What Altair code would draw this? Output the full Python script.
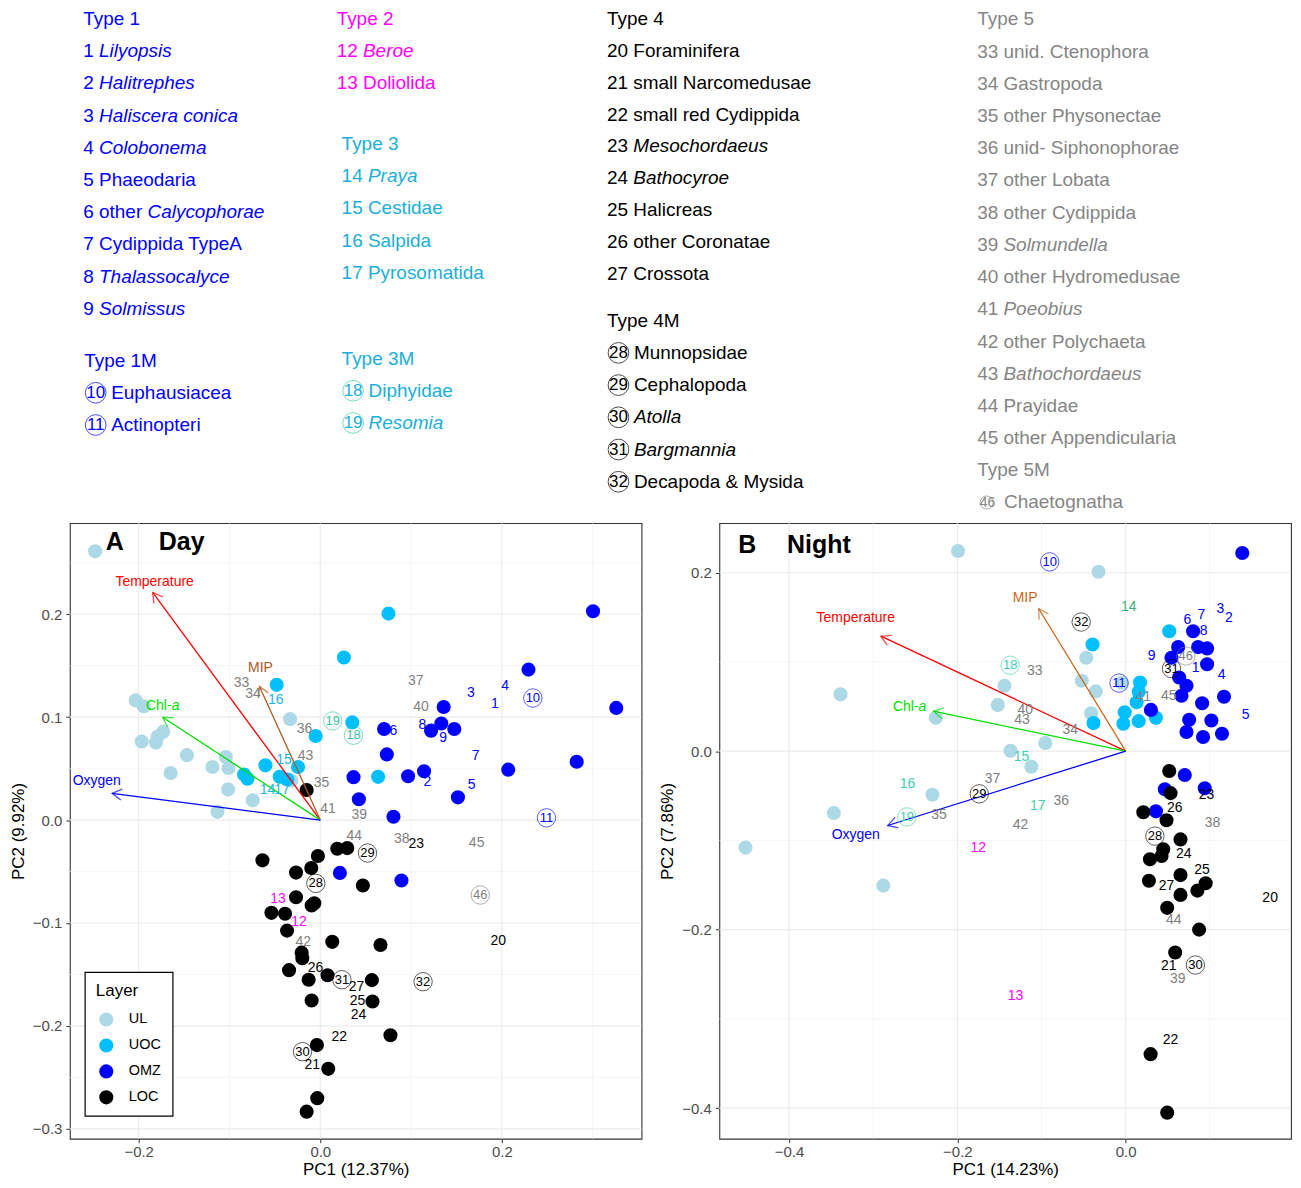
import math
import altair as alt
import pandas as pd

FONT = "Liberation Sans"

# ---------------- top legend (taxa by type) ----------------
type1_ids = [1, 2, 3, 4, 5, 6, 7, 8, 9]
type1_names = ["*Lilyopsis*", "*Halitrephes*", "*Haliscera conica*", "*Colobonema*", "Phaeodaria",
               "other *Calycophorae*", "Cydippida TypeA", "*Thalassocalyce*", "*Solmissus*"]
type1m_ids = [10, 11]
type1m_names = ["Euphausiacea", "Actinopteri"]
type2_ids = [12, 13]
type2_names = ["*Beroe*", "Doliolida"]
type3_ids = [14, 15, 16, 17]
type3_names = ["*Praya*", "Cestidae", "Salpida", "Pyrosomatida"]
type3m_ids = [18, 19]
type3m_names = ["Diphyidae", "*Resomia*"]
type4_ids = [20, 21, 22, 23, 24, 25, 26, 27]
type4_names = ["Foraminifera", "small Narcomedusae", "small red Cydippida", "*Mesochordaeus*",
               "*Bathocyroe*", "Halicreas", "other Coronatae", "Crossota"]
type4m_ids = [28, 29, 30, 31, 32]
type4m_names = ["Munnopsidae", "Cephalopoda", "*Atolla*", "*Bargmannia*", "Decapoda & Mysida"]
type5_ids = [33, 34, 35, 36, 37, 38, 39, 40, 41, 42, 43, 44, 45]
type5_names = ["unid. Ctenophora", "Gastropoda", "other Physonectae", "unid- Siphonophorae",
               "other Lobata", "other Cydippida", "*Solmundella*", "other Hydromedusae",
               "*Poeobius*", "other Polychaeta", "*Bathochordaeus*", "Prayidae", "other Appendicularia"]
type5m_ids = [46]
type5m_names = ["Chaetognatha"]

C_T1, C_T2, C_T3, C_T3C, C_T4, C_T5 = "#0000FF", "#FF00FF", "#19AFD9", "#3DCCA8", "#000000", "#858585"

# header, ids, names, circled, text colour, circle colour
groups = [
    ("Type 1", type1_ids, type1_names, False, C_T1, C_T1),
    ("Type 1M", type1m_ids, type1m_names, True, C_T1, C_T1),
    ("Type 2", type2_ids, type2_names, False, C_T2, C_T2),
    ("Type 3", type3_ids, type3_names, False, C_T3, C_T3),
    ("Type 3M", type3m_ids, type3m_names, True, C_T3, C_T3C),
    ("Type 4", type4_ids, type4_names, False, C_T4, C_T4),
    ("Type 4M", type4m_ids, type4m_names, True, C_T4, C_T4),
    ("Type 5", type5_ids, type5_names, False, C_T5, C_T5),
    ("Type 5M", type5m_ids, type5m_names, True, C_T5, C_T5),
]

# layout of the legend block (pixels inside the block; origin aligned with panel A's plot area)
TOP_W, TOP_H = 1215, 505
ROW = 32.3
FS_LEG = 19
anchors = {"Type 1": (13.4, 9.5), "Type 1M": (14.4, 352), "Type 2": (267.4, 9.5), "Type 3": (272.4, 135),
           "Type 3M": (272.4, 350), "Type 4": (538.4, 9.4), "Type 4M": (538.4, 312), "Type 5": (909.4, 10),
           "Type 5M": (909.4, 462)}

# Arial / Liberation Sans advance widths (1/1000 em)
AW = dict(zip("abcdefghijklmnopqrstuvwxyz",
              [556, 556, 500, 556, 556, 278, 556, 556, 222, 222, 500, 222, 833, 556, 556, 556, 556, 333,
               500, 278, 556, 500, 722, 500, 500, 500]))
AW.update(dict(zip("ABCDEFGHIJKLMNOPQRSTUVWXYZ",
                   [667, 667, 722, 722, 667, 611, 778, 722, 278, 500, 667, 556, 833, 722, 778, 667, 778,
                    722, 667, 611, 722, 667, 944, 667, 667, 611])))
AW.update({" ": 278, "-": 333, ".": 278, "&": 667})
for d in "0123456789":
    AW[d] = 556


def tw(s, fs):
    return sum(AW.get(c, 556) for c in s) * fs / 1000.0


leg_txt, leg_num, leg_circ = [], [], []
for header, ids, names, circled, tcol, ccol in groups:
    ax, ay = anchors[header]
    leg_txt.append(dict(x=ax, y=ay, text=header, color=tcol, it=False, fs=FS_LEG))
    step = ROW if header != "Type 4" else ROW - 0.3
    for k, (i, nm) in enumerate(zip(ids, names), start=1):
        yy = ay + k * step
        if circled:
            small = i == 46
            cx = ax + (9.5 if small else 11.5)
            leg_circ.append(dict(x=cx, y=yy, color=ccol, sz=(170 if small else 430)))
            leg_num.append(dict(x=cx + (1 if small else 0), y=yy, text=str(i), color=tcol,
                                fs=(14 if small else 17)))
            sx, s = ax + 27, nm
        else:
            sx, s = ax, f"{i} {nm}"
        for j, p in enumerate(s.split("*")):
            if p:
                leg_txt.append(dict(x=sx, y=yy, text=p, color=tcol, it=(j % 2 == 1), fs=FS_LEG))
            sx += tw(p, FS_LEG)

tx_scale = alt.Scale(domain=[0, TOP_W], nice=False, zero=False)
ty_scale = alt.Scale(domain=[0, TOP_H], nice=False, zero=False, reverse=True)


def top_enc(ch):
    return ch.encode(x=alt.X("x:Q", scale=tx_scale, axis=None),
                     y=alt.Y("y:Q", scale=ty_scale, axis=None),
                     color=alt.Color("color:N", scale=None))


ltxt = pd.DataFrame(leg_txt)
top_norm = top_enc(alt.Chart(ltxt[~ltxt.it]).mark_text(align="left", baseline="middle", font=FONT)).encode(
    text="text:N", size=alt.Size("fs:Q", scale=None))
top_ital = top_enc(alt.Chart(ltxt[ltxt.it]).mark_text(align="left", baseline="middle", font=FONT,
                                                      fontStyle="italic")).encode(
    text="text:N", size=alt.Size("fs:Q", scale=None))
top_nums = top_enc(alt.Chart(pd.DataFrame(leg_num)).mark_text(align="center", baseline="middle", font=FONT)).encode(
    text="text:N", size=alt.Size("fs:Q", scale=None))
top_circ = top_enc(alt.Chart(pd.DataFrame(leg_circ)).mark_point(shape="circle", filled=False, strokeWidth=1)).encode(
    size=alt.Size("sz:Q", scale=None))
top = alt.layer(top_norm, top_ital, top_circ, top_nums).properties(
    width=TOP_W, height=TOP_H, view=alt.ViewBackground(strokeWidth=0))

# ---------------- Panel A (Day) ----------------
A_UL_x = [-0.2480, -0.2033, -0.1945, -0.1967, -0.1810, -0.1791, -0.1729, -0.1469, -0.1648, -0.1187,
          -0.1040, -0.1011, -0.1015, -0.1132, -0.0744, -0.0333, -0.0319]
A_UL_y = [0.2612, 0.1163, 0.1106, 0.0763, 0.0753, 0.0811, 0.0859, 0.0631, 0.0458, 0.0516,
          0.0612, 0.0506, 0.0298, 0.0080, 0.0192, 0.0981, 0.0385]
A_UOC_x = [0.0751, 0.0260, -0.0480, -0.0051, 0.0352, 0.0637, -0.0604, -0.0839, -0.0802, -0.0447,
           -0.0245, -0.0363]
A_UOC_y = [0.2006, 0.1580, 0.1314, 0.0817, 0.0949, 0.0420, 0.0532, 0.0442, 0.0401, 0.0420,
           0.0516, 0.0394]
A_OMZ_x = [0.3004, 0.2293, 0.3260, 0.1359, 0.0703, 0.1220, 0.1333, 0.1476, 0.0733, 0.0366, 0.0967,
           0.1143, 0.2070, 0.2824, 0.0425, 0.1516, 0.0806, 0.0216, 0.0894]
A_OMZ_y = [0.2029, 0.1462, 0.1090, 0.1099, 0.0885, 0.0869, 0.0939, 0.0885, 0.0638, 0.0417, 0.0426,
           0.0474, 0.0490, 0.0567, 0.0202, 0.0221, 0.0032, -0.0513, -0.0587]
A_LOC_x = [-0.0150, -0.0637, -0.0026, -0.0099, -0.0267, 0.0187, 0.0297, -0.0267, -0.0095, -0.0066,
           -0.0538, -0.0388, -0.0366, 0.0132, -0.0205, -0.0198, -0.0344, -0.0128, 0.0080, -0.0095,
           -0.0037, 0.0088, -0.0033, -0.0150, 0.0469, 0.0663, 0.0568, 0.0575, 0.0773]
A_LOC_y = [0.0292, -0.0391, -0.0349, -0.0465, -0.0510, -0.0279, -0.0272, -0.0750, -0.0830, -0.0808,
           -0.0901, -0.0910, -0.1074, -0.1183, -0.1288, -0.1343, -0.1458, -0.1551, -0.1507, -0.1753,
           -0.2186, -0.2417, -0.2702, -0.2833, -0.0635, -0.1214, -0.1555, -0.1763, -0.2090]

A_lab_id = [33, 34, 16, 36, 19, 18, 15, 43, 35, 14, 17, 41, 6, 37, 40, 3, 4, 1, 10, 8, 9, 7, 2, 5, 11,
            39, 44, 38, 23, 45, 29, 28, 46, 20, 26, 31, 27, 25, 24, 32, 22, 30, 21, 13, 12, 42]
A_lab_x = [-0.0868, -0.0740, -0.0491, -0.0173, 0.0137, 0.0366, -0.0399, -0.0162, 0.0014, -0.0582,
           -0.0421, 0.0085, 0.0805, 0.1052, 0.1110, 0.1659, 0.2036, 0.1923, 0.2341, 0.1124, 0.1352,
           0.1711, 0.1179, 0.1667, 0.2491, 0.0429, 0.0374, 0.0898, 0.1058, 0.1722, 0.0520, -0.0049,
           0.1762, 0.1959, -0.0053, 0.0238, 0.0399, 0.0410, 0.0421, 0.1132, 0.0209, -0.0196, -0.0088,
           -0.0465, -0.0234, -0.0187]
A_lab_y = [0.1334, 0.1228, 0.1163, 0.0885, 0.0963, 0.0824, 0.0587, 0.0618, 0.0356, 0.0291, 0.0291,
           0.0106, 0.0865, 0.1349, 0.1099, 0.1234, 0.1298, 0.1125, 0.1186, 0.0926, 0.0798, 0.0618,
           0.0368, 0.0337, 0.0022, 0.0048, -0.0159, -0.0183, -0.0231, -0.0221, -0.0320, -0.0615,
           -0.0728, -0.1176, -0.1433, -0.1551, -0.1618, -0.1760, -0.1897, -0.1570, -0.2106, -0.2250,
           -0.2378, -0.0769, -0.0990, -0.1183]

A_arrow_names = ["Temperature", "MIP", "Chl-a", "Oxygen"]
A_arrow_x = [-0.1846, -0.0670, -0.1736, -0.2293]
A_arrow_y = [0.2212, 0.1298, 0.1000, 0.0260]
A_arrow_lab_x = [-0.1824, -0.0659, -0.1736, -0.2462]
A_arrow_lab_y = [0.2317, 0.1481, 0.1106, 0.0375]
A_title = ["A", "Day"]
A_title_x = [-0.2264, -0.1527]
A_title_y = [0.2702, 0.2702]

# ---------------- Panel B (Night) ----------------
B_UL_x = [-0.1992, -0.3388, -0.2256, -0.1440, -0.1519, -0.1369, -0.2296, -0.3467, -0.4517, -0.2880,
          -0.0323, -0.0469, -0.0521, -0.0355, -0.0411, -0.0955, -0.1121, -0.0047]
B_UL_y = [0.2244, 0.0637, 0.0374, 0.0733, 0.0519, 0.0004, -0.0489, -0.0693, -0.1081, -0.1507,
          0.2011, 0.1048, 0.0789, 0.0670, 0.0426, 0.0092, -0.0174, 0.0767]
B_UOC_x = [0.0517, -0.0394, -0.0383, 0.0170, 0.0154, 0.0130, -0.0012, -0.0028, 0.0154, 0.0359]
B_UOC_y = [0.1344, 0.1196, 0.0315, 0.0770, 0.0667, 0.0548, 0.0437, 0.0307, 0.0337, 0.0374]
B_OMZ_x = [0.1385, 0.0801, 0.0623, 0.0860, 0.0967, 0.0544, 0.0967, 0.0635, 0.0722, 0.0663, 0.1168,
           0.0908, 0.0300, 0.0754, 0.1018, 0.0722, 0.0919, 0.1144, 0.0702, 0.0465, 0.0939, 0.0359]
B_OMZ_y = [0.2222, 0.1344, 0.1167, 0.1167, 0.1152, 0.1048, 0.0974, 0.0826, 0.0733, 0.0622, 0.0611,
           0.0537, 0.0463, 0.0352, 0.0344, 0.0215, 0.0159, 0.0196, -0.0267, -0.0426, -0.0415, -0.0674]
B_LOC_x = [0.0517, 0.0533, 0.0209, 0.0485, 0.0651, 0.0446, 0.0426, 0.0288, 0.0651, 0.0276, 0.0950,
           0.0852, 0.0651, 0.0493, 0.0872, 0.0588, 0.0296, 0.0493]
B_LOC_y = [-0.0222, -0.0470, -0.0685, -0.0774, -0.0989, -0.1100, -0.1174, -0.1211, -0.1389, -0.1452,
           -0.1481, -0.1563, -0.1611, -0.1756, -0.2000, -0.2256, -0.3396, -0.4052]

B_lab_id = [18, 16, 37, 29, 19, 35, 12, 10, 14, 32, 6, 7, 3, 2, 8, 33, 9, 46, 31, 1, 4, 11, 41, 45, 5,
            40, 43, 34, 15, 17, 36, 42, 23, 26, 38, 28, 24, 25, 27, 44, 20, 21, 30, 39, 13, 22]
B_lab_x = [-0.1373, -0.2592, -0.1582, -0.1740, -0.2600, -0.2217, -0.1751, -0.0903, 0.0036, -0.0529,
           0.0734, 0.0899, 0.1124, 0.1227, 0.0927, -0.1080, 0.0308, 0.0714, 0.0544, 0.0832, 0.1140,
           -0.0079, 0.0209, 0.0512, 0.1424, -0.1192, -0.1231, -0.0659, -0.1239, -0.1045, -0.0766,
           -0.1251, 0.0959, 0.0583, 0.1030, 0.0347, 0.0690, 0.0908, 0.0485, 0.0572, 0.1716, 0.0512,
           0.0828, 0.0619, -0.1310, 0.0533]
B_lab_y = [0.0963, -0.0370, -0.0314, -0.0478, -0.0737, -0.0719, -0.1089, 0.2122, 0.1611, 0.1448,
           0.1467, 0.1522, 0.1597, 0.1492, 0.1344, 0.0900, 0.1067, 0.1067, 0.0926, 0.0937, 0.0856,
           0.0763, 0.0603, 0.0614, 0.0411, 0.0463, 0.0344, 0.0241, -0.0070, -0.0611, -0.0563,
           -0.0822, -0.0489, -0.0637, -0.0803, -0.0952, -0.1156, -0.1333, -0.1508, -0.1897, -0.1648,
           -0.2408, -0.2397, -0.2552, -0.2741, -0.3241]

B_arrow_names = ["Temperature", "MIP", "Chl-a", "Oxygen"]
B_arrow_x = [-0.2908, -0.1033, -0.2284, -0.2828]
B_arrow_y = [0.1289, 0.1597, 0.0448, -0.0833]
B_arrow_lab_x = [-0.3207, -0.1195, -0.2568, -0.3207]
B_arrow_lab_y = [0.1489, 0.1722, 0.0500, -0.0944]
B_title = ["B", "Night"]
B_title_x = [-0.4497, -0.3645]
B_title_y = [0.2311, 0.2311]

LAYER_DOM = ["UL", "UOC", "OMZ", "LOC"]
LAYER_COL = ["#ADD8E6", "#00BFFF", "#0000FF", "#000000"]
CIRCLED = {10, 11, 18, 19, 28, 29, 30, 31, 32, 46}
ARROW_PATH = "M -0.5 0.866 L 0 0 L 0.5 0.866"


def id_color(i, panel):
    if i <= 11:
        return "#0000FF"
    if i <= 13:
        return "#FF00FF"
    if i <= 17:
        if panel == "A":
            return "#1AB4E6"
        return "#36B080" if i == 14 else "#3FCFB0"
    if i <= 19:
        return "#3CC4A4" if panel == "A" else "#3FCFB0"
    if i <= 32:
        return "#000000"
    return "#808080"


def make_panel(tag, pts, lab_id, lab_x, lab_y, a_names, a_x, a_y, al_x, al_y, mip_col,
               t_text, t_x, t_y, xdom, ydom, xmaj, ymaj, xmin, ymin, xtitle, ytitle, W, H, legend):
    xs = alt.Scale(domain=xdom, nice=False, zero=False)
    ys = alt.Scale(domain=ydom, nice=False, zero=False)
    xa = alt.Axis(values=xmaj, format=".1f", title=xtitle, grid=False)
    ya = alt.Axis(values=ymaj, format=".1f", title=ytitle, grid=False)

    def X(f):
        return alt.X(f, scale=xs, axis=xa)

    def Y(f):
        return alt.Y(f, scale=ys, axis=ya)

    def gridx(vals, w, c):
        return alt.Chart(pd.DataFrame({"x": vals})).mark_rule(color=c, strokeWidth=w).encode(x=X("x:Q"))

    def gridy(vals, w, c):
        return alt.Chart(pd.DataFrame({"y": vals})).mark_rule(color=c, strokeWidth=w).encode(y=Y("y:Q"))

    grids = [gridx(xmin, 0.7, "#F2F2F2"), gridy(ymin, 0.7, "#F2F2F2"),
             gridx(xmaj, 1.2, "#EBEBEB"), gridy(ymaj, 1.2, "#EBEBEB")]

    points = alt.Chart(pts).mark_circle(size=200, opacity=1).encode(
        x=X("x:Q"), y=Y("y:Q"),
        color=alt.Color("layer:N", scale=alt.Scale(domain=LAYER_DOM, range=LAYER_COL), legend=legend),
    )

    sx = W / (xdom[1] - xdom[0])
    sy = H / (ydom[1] - ydom[0])
    acols = {"Temperature": "#FF0000", "MIP": mip_col, "Chl-a": "#00E000", "Oxygen": "#0000FF"}
    arr = pd.DataFrame({
        "name": a_names, "x": a_x, "y": a_y, "ox": [0.0] * len(a_x), "oy": [0.0] * len(a_x),
        "lx": al_x, "ly": al_y,
        "col": [acols[n] for n in a_names],
        "ang": [math.degrees(math.atan2(x * sx, y * sy)) % 360 for x, y in zip(a_x, a_y)],
    })
    shafts = alt.Chart(arr).mark_rule(strokeWidth=1.3).encode(
        x=X("ox:Q"), y=Y("oy:Q"), x2="x:Q", y2="y:Q", color=alt.Color("col:N", scale=None))
    heads = alt.Chart(arr).mark_point(shape=ARROW_PATH, filled=False, size=484, strokeWidth=1.3).encode(
        x=X("x:Q"), y=Y("y:Q"), angle=alt.Angle("ang:Q", scale=None), color=alt.Color("col:N", scale=None))
    alabs = alt.Chart(arr[arr.name != "Chl-a"]).mark_text(font=FONT, fontSize=14).encode(
        x=X("lx:Q"), y=Y("ly:Q"), text="name:N", color=alt.Color("col:N", scale=None))
    chl = arr[arr.name == "Chl-a"].assign(t1="Chl-", t2="a")
    chl1 = alt.Chart(chl).mark_text(font=FONT, fontSize=14, align="right", dx=9).encode(
        x=X("lx:Q"), y=Y("ly:Q"), text="t1:N", color=alt.Color("col:N", scale=None))
    chl2 = alt.Chart(chl).mark_text(font=FONT, fontSize=14, align="left", dx=9, fontStyle="italic").encode(
        x=X("lx:Q"), y=Y("ly:Q"), text="t2:N", color=alt.Color("col:N", scale=None))

    labs = pd.DataFrame({"id": lab_id, "x": lab_x, "y": lab_y})
    labs["text"] = labs["id"].astype(str)
    labs["col"] = [id_color(i, tag) for i in labs["id"]]
    labs["circ"] = labs["id"].isin(CIRCLED)
    plain = alt.Chart(labs[~labs.circ]).mark_text(font=FONT, fontSize=14).encode(
        x=X("x:Q"), y=Y("y:Q"), text="text:N", color=alt.Color("col:N", scale=None))
    cnum = alt.Chart(labs[labs.circ]).mark_text(font=FONT, fontSize=13).encode(
        x=X("x:Q"), y=Y("y:Q"), text="text:N", color=alt.Color("col:N", scale=None))
    ccirc = alt.Chart(labs[labs.circ]).mark_point(shape="circle", filled=False, size=340, strokeWidth=0.9).encode(
        x=X("x:Q"), y=Y("y:Q"), color=alt.Color("col:N", scale=None))

    ttl = alt.Chart(pd.DataFrame({"text": t_text, "x": t_x, "y": t_y})).mark_text(
        font=FONT, fontSize=25, fontWeight="bold", color="#000000").encode(x=X("x:Q"), y=Y("y:Q"), text="text:N")

    return alt.layer(*grids, points, shafts, heads, alabs, chl1, chl2, plain, ccirc, cnum, ttl).resolve_scale(
        color="independent").properties(
        width=W, height=H, view=alt.ViewBackground(stroke="#333333", strokeWidth=1.1))


def pts_df(ulx, uly, uox, uoy, omx, omy, lcx, lcy):
    frames = []
    for name, xx, yy in [("UL", ulx, uly), ("UOC", uox, uoy), ("OMZ", omx, omy), ("LOC", lcx, lcy)]:
        frames.append(pd.DataFrame({"x": xx, "y": yy, "layer": name}))
    return pd.concat(frames, ignore_index=True)


PANEL_H = 617

legendA = alt.Legend(orient="none", legendX=15, legendY=450, title="Layer", fillColor="white",
                     strokeColor="#000000", padding=11, symbolOffset=3,
                     titleFont=FONT, titleFontSize=17, titleFontWeight="normal", titleColor="#000000",
                     titlePadding=12, labelFont=FONT, labelFontSize=14.5, labelColor="#000000",
                     symbolSize=200, symbolType="circle", symbolStrokeWidth=0, rowPadding=10,
                     labelOffset=15)

panelA = make_panel("A", pts_df(A_UL_x, A_UL_y, A_UOC_x, A_UOC_y, A_OMZ_x, A_OMZ_y, A_LOC_x, A_LOC_y),
                    A_lab_id, A_lab_x, A_lab_y, A_arrow_names, A_arrow_x, A_arrow_y,
                    A_arrow_lab_x, A_arrow_lab_y, "#B05A1E", A_title, A_title_x, A_title_y,
                    [-0.2758, 0.3538], [-0.3096, 0.2885],
                    [-0.2, 0.0, 0.2], [-0.3, -0.2, -0.1, 0.0, 0.1, 0.2],
                    [-0.1, 0.1, 0.3], [-0.25, -0.15, -0.05, 0.05, 0.15, 0.25],
                    "PC1 (12.37%)", "PC2 (9.92%)", 573, PANEL_H, legendA)

panelB = make_panel("B", pts_df(B_UL_x, B_UL_y, B_UOC_x, B_UOC_y, B_OMZ_x, B_OMZ_y, B_LOC_x, B_LOC_y),
                    B_lab_id, B_lab_x, B_lab_y, B_arrow_names, B_arrow_x, B_arrow_y,
                    B_arrow_lab_x, B_arrow_lab_y, "#CC661E", B_title, B_title_x, B_title_y,
                    [-0.4828, 0.1964], [-0.4344, 0.2556],
                    [-0.4, -0.2, 0.0], [-0.4, -0.2, 0.0, 0.2],
                    [-0.3, -0.1, 0.1], [-0.3, -0.1, 0.1],
                    "PC1 (14.23%)", "PC2 (7.86%)", 573, PANEL_H, None)

panels = alt.hconcat(panelA, panelB, spacing=78, bounds="flush").resolve_scale(
    color="independent").resolve_legend(color="independent")

chart = alt.vconcat(top, panels, spacing=8).properties(
    padding={"left": 0, "top": 0, "right": 0, "bottom": 0}, background="white"
).configure_view(strokeWidth=0).configure_legend(strokeWidth=1.2, cornerRadius=0).configure_axis(
    labelFont=FONT, labelFontSize=15, labelColor="#4D4D4D", tickColor="#333333", tickSize=4,
    tickWidth=1, domain=False, grid=False, titleFont=FONT, titleFontSize=17,
    titleFontWeight="normal", titleColor="#000000"
).configure_axisX(titlePadding=2, labelPadding=2).configure_axisY(titlePadding=5, labelPadding=4)

chart.save("out.html", embed_options={"renderer": "svg", "actions": False})
